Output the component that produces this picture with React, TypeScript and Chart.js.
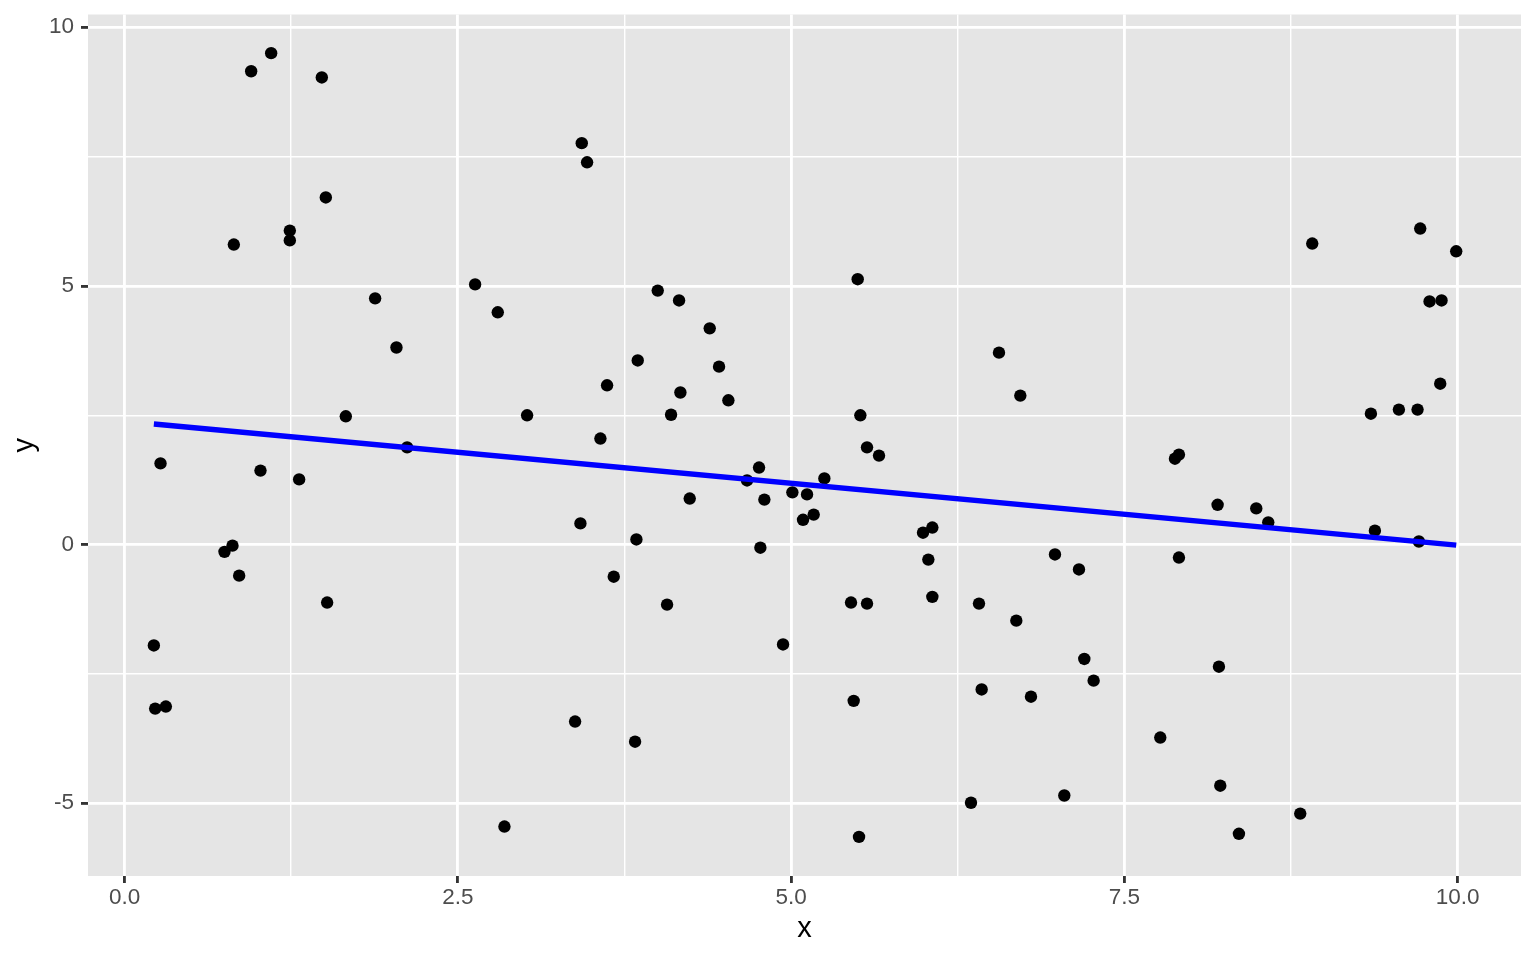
import React, { useEffect, useRef } from "react";
import { Chart, registerables } from "chart.js";

Chart.register(...registerables);

const xValues = [
  0.22, 0.23, 0.31, 0.27, 0.75, 0.81, 0.86, 0.82, 0.95, 1.10,
  1.02, 1.24, 1.24, 1.31, 1.48, 1.51, 1.52, 1.66, 1.88, 2.04,
  2.12, 2.63, 2.80, 2.85, 3.02, 3.38, 3.42, 3.43, 3.47, 3.57,
  3.62, 3.67, 3.83, 3.84, 3.85, 4.00, 4.07, 4.10, 4.16, 4.17,
  4.24, 4.39, 4.46, 4.53, 4.67, 4.76, 4.77, 4.80, 4.94, 5.01,
  5.09, 5.12, 5.17, 5.25, 5.45, 5.47, 5.50, 5.51, 5.52, 5.57,
  5.57, 5.66, 5.99, 6.03, 6.06, 6.06, 6.35, 6.41, 6.43, 6.56,
  6.69, 6.72, 6.80, 6.98, 7.05, 7.16, 7.20, 7.27, 7.77, 7.88,
  7.91, 7.91, 8.20, 8.21, 8.22, 8.36, 8.49, 8.58, 8.82, 8.91,
  9.35, 9.38, 9.56, 9.70, 9.71, 9.72, 9.79, 9.88, 9.87, 9.99,
];

const yValues = [
  -1.95, -3.17, -3.13, 1.57, -0.14, -0.02, -0.60, 5.80, 9.15, 9.50,
  1.43, 6.07, 5.88, 1.26, 9.03, 6.71, -1.12, 2.48, 4.76, 3.81,
  1.88, 5.03, 4.49, -5.45, 2.50, -3.42, 0.41, 7.76, 7.39, 2.05,
  3.08, -0.62, -3.81, 0.10, 3.56, 4.91, -1.16, 2.51, 4.72, 2.94,
  0.89, 4.18, 3.44, 2.79, 1.24, 1.49, -0.06, 0.87, -1.93, 1.01,
  0.48, 0.97, 0.58, 1.28, -1.12, -3.02, 5.13, -5.65, 2.50, 1.88,
  -1.14, 1.72, 0.23, -0.29, 0.33, -1.01, -4.99, -1.14, -2.80, 3.71,
  -1.47, 2.88, -2.94, -0.19, -4.85, -0.48, -2.21, -2.63, -3.73, 1.66,
  1.74, -0.25, 0.77, -2.36, -4.66, -5.59, 0.70, 0.43, -5.20, 5.82,
  2.53, 0.27, 2.61, 2.61, 0.06, 6.11, 4.70, 4.72, 3.11, 5.67,
];

const fitX = [0.22, 9.99];
const fitY = [2.33, -0.01];

const xTickValues = [0, 1.25, 2.5, 3.75, 5, 6.25, 7.5, 8.75, 10];
const xTickLabels = ["0.0", "", "2.5", "", "5.0", "", "7.5", "", "10.0"];
const yTickValues = [-5, -2.5, 0, 2.5, 5, 7.5, 10];
const yTickLabels = ["-5", "", "0", "", "5", "", "10"];

const xLimits = [-0.274, 10.476];
const yLimits = [-6.406, 10.247];

const FONT = "'Liberation Sans', Arial, Helvetica, sans-serif";

const panelBg = {
  id: "panelBg",
  beforeDraw(chart: any) {
    const { ctx, chartArea } = chart;
    ctx.save();
    ctx.fillStyle = "#E5E5E5";
    ctx.fillRect(
      chartArea.left,
      chartArea.top,
      chartArea.right - chartArea.left,
      chartArea.bottom - chartArea.top
    );
    ctx.restore();
  },
};

export default function App() {
  const canvasRef = useRef<HTMLCanvasElement | null>(null);

  useEffect(() => {
    const canvas = canvasRef.current;
    if (!canvas) return;

    const points = xValues.map((x, i) => ({ x, y: yValues[i] }));
    const fitLine = fitX.map((x, i) => ({ x, y: fitY[i] }));

    const gridFor = (labels: string[]) => ({
      color: "#FFFFFF",
      lineWidth: (c: any) => (labels[c.index] ? 2.84 : 1.42),
      drawTicks: true,
      tickLength: 7,
      tickWidth: 2.84,
      tickColor: (c: any) => (labels[c.index] ? "#333333" : "rgba(0,0,0,0)"),
    });

    const chart = new Chart(canvas, {
      type: "scatter",
      data: {
        datasets: [
          {
            type: "line",
            data: fitLine,
            borderColor: "#0000FF",
            borderWidth: 5.5,
            pointRadius: 0,
            fill: false,
            tension: 0,
            order: 0,
          } as any,
          {
            type: "scatter",
            data: points,
            backgroundColor: "#000000",
            borderWidth: 0,
            pointRadius: 6.2,
            pointHoverRadius: 6.2,
            order: 1,
          } as any,
        ],
      },
      options: {
        responsive: false,
        animation: false,
        devicePixelRatio: 1,
        layout: { padding: { left: 0, top: 14.5, right: 15, bottom: 0 } },
        plugins: {
          legend: { display: false },
          tooltip: { enabled: false },
        },
        scales: {
          x: {
            type: "linear",
            position: "bottom",
            min: xLimits[0],
            max: xLimits[1],
            border: { display: false },
            grid: gridFor(xTickLabels) as any,
            afterBuildTicks: (scale: any) => {
              scale.ticks = xTickValues.map((v) => ({ value: v }));
            },
            afterFit: (scale: any) => {
              scale.height = 84;
              scale.paddingLeft = 0;
              scale.paddingRight = 0;
            },
            ticks: {
              autoSkip: false,
              maxRotation: 0,
              minRotation: 0,
              padding: 1.5,
              color: "#4D4D4D",
              font: { family: FONT, size: 22.5 },
              callback: (_v: any, i: number) => xTickLabels[i],
            },
            title: {
              display: true,
              text: "x",
              color: "#000000",
              font: { family: FONT, size: 29 },
              padding: { top: 0, bottom: 13.6 },
            },
          },
          y: {
            type: "linear",
            position: "left",
            min: yLimits[0],
            max: yLimits[1],
            border: { display: false },
            grid: gridFor(yTickLabels) as any,
            afterBuildTicks: (scale: any) => {
              scale.ticks = yTickValues.map((v) => ({ value: v }));
            },
            afterFit: (scale: any) => {
              scale.width = 88;
              scale.paddingTop = 0;
              scale.paddingBottom = 0;
            },
            ticks: {
              autoSkip: false,
              padding: 7,
              color: "#4D4D4D",
              font: { family: FONT, size: 22.5 },
              callback: (_v: any, i: number) => yTickLabels[i],
            },
            title: {
              display: true,
              text: "y",
              color: "#000000",
              font: { family: FONT, size: 29 },
              padding: { top: 7.6, bottom: 0 },
            },
          },
        },
      },
      plugins: [panelBg],
    });

    return () => {
      chart.destroy();
    };
  }, []);

  return (
    <div
      style={{
        position: "fixed",
        left: 0,
        top: 0,
        width: 1536,
        height: 960,
        background: "#FFFFFF",
      }}
    >
      <canvas
        ref={canvasRef}
        width={1536}
        height={960}
        style={{ display: "block", width: 1536, height: 960 }}
      />
    </div>
  );
}
